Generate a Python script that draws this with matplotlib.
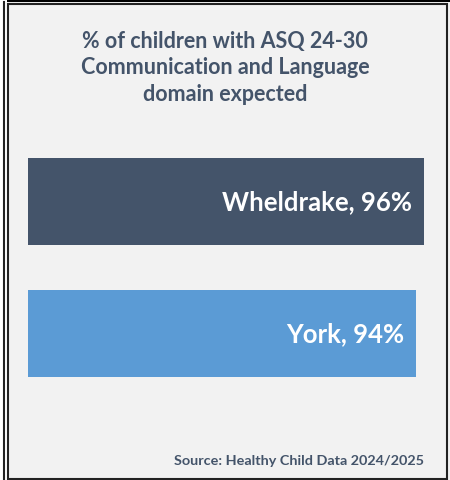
import matplotlib.pyplot as plt
from matplotlib.patches import Rectangle
from matplotlib.lines import Line2D

# data
areas = ['Wheldrake', 'York']
values = [96, 94]
colors = ['#44546a', '#5b9bd5']
title = '% of children with ASQ 24-30\nCommunication and Language\ndomain expected'
source = 'Source: Healthy Child Data 2024/2025'

W, H = 450, 481
fig = plt.figure(figsize=(W / 100, H / 100), dpi=100)
fig.patch.set_facecolor('#f2f2f2')

# frame lines (pixel coords -> figure fraction)
def px(x, y):
    return x / W, 1 - y / H

fig.patches.append(Rectangle((0, 1 - 3 / H), 1, 3 / H, transform=fig.transFigure,
                             facecolor='black', edgecolor='none', zorder=-5))
fig.patches.append(Rectangle((0, 0), 7 / W, 1, transform=fig.transFigure,
                             facecolor='white', edgecolor='none', zorder=-5))
fig.lines.append(Line2D([3.5 / W, 3.5 / W], [0, 1 - 3 / H], transform=fig.transFigure,
                        color='#222222', lw=1.5, zorder=-4))
x0, y0 = px(7.5, 479.5)
x1, y1 = px(446.5, 4.5)
fig.patches.append(Rectangle((x0, y0), x1 - x0, y1 - y0, transform=fig.transFigure,
                             facecolor='#f2f2f2', edgecolor='#222222', lw=1.5, zorder=-4))

# axes: x 0..100 from px 28 to 440.5, y -0.5..1.5 from px 136.5 to 400.5
ax = fig.add_axes([28 / W, 1 - 400.5 / H, 412.5 / W, 264 / H])
ax.set_zorder(5)
ax.set_facecolor('none')
ypos = list(range(len(areas)))
ax.barh(ypos, values, height=0.66, color=colors)
ax.set_xlim(0, 100)
ax.set_ylim(1.5, -0.5)
ax.axis('off')

for y, a, v in zip(ypos, areas, values):
    ax.text(v - 2.9, y, f'{a}, {v}%', ha='right', va='center', color='white',
            fontsize=18.5, fontweight='bold', family='Lato')

fig.text(0.5, 1 - 68 / H, title, ha='center', va='center', color='#44546a',
         fontsize=15.5, fontweight='bold', family='Lato', linespacing=1.3)
fig.text(424 / W, 1 - 461 / H, source, ha='right', va='center', color='#44546a',
         fontsize=10.4, fontweight='bold', family='Lato')

fig.savefig('out.png', dpi=100, facecolor=fig.get_facecolor())
